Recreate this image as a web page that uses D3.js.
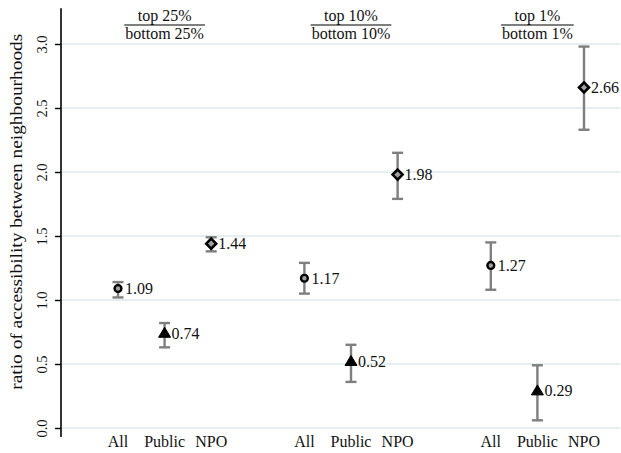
<!DOCTYPE html>
<html>
<head>
<meta charset="utf-8">
<script src="https://cdn.jsdelivr.net/npm/d3@7"></script>
<style>
  html, body { margin: 0; padding: 0; background: #fff; }
  svg { display: block; }
  text { font-family: "Liberation Serif", "DejaVu Serif", serif; fill: #111; }
</style>
</head>
<body>
<svg id="chart" width="621" height="453"></svg>
<script>
// Group headings (numerator / denominator of the ratio)
const groupTop = ["top 25%", "top 10%", "top 1%"];
const groupBottom = ["bottom 25%", "bottom 10%", "bottom 1%"];
// Provider types within each group
const providers = ["All", "Public", "NPO"];
// Point estimates per group, in provider order
const estimates = [
  [1.09, 0.74, 1.44],
  [1.17, 0.52, 1.98],
  [1.27, 0.29, 2.66]
];
// Confidence interval bounds
const ciLow = [
  [1.02, 0.63, 1.38],
  [1.05, 0.36, 1.79],
  [1.08, 0.06, 2.33]
];
const ciHigh = [
  [1.14, 0.82, 1.49],
  [1.29, 0.65, 2.15],
  [1.45, 0.49, 2.98]
];
const yTicks = [0, 0.5, 1, 1.5, 2, 2.5, 3];

const svg = d3.select("#chart");
const W = 621, H = 453;
const axisX = 61;

const y = d3.scaleLinear().domain([0, 3]).range([428, 44]);
// slot positions: three providers per group, one empty slot between groups
const x = d3.scaleLinear().domain([1, 11]).range([118, 584]);
const slot = (g, p) => 1 + g * 4 + p;

// gridlines
svg.append("g").selectAll("line").data(yTicks).join("line")
  .attr("x1", axisX + 1).attr("x2", W - 1)
  .attr("y1", d => y(d)).attr("y2", d => y(d))
  .attr("stroke", "#e6eff0").attr("stroke-width", 2);

// y axis
const yAxis = d3.axisLeft(y).tickValues(yTicks).tickFormat(d3.format(".1f"))
  .tickSize(6).tickSizeOuter(0);
const ga = svg.append("g").attr("transform", `translate(${axisX},0)`).call(yAxis);
ga.select(".domain").remove();
ga.append("line").attr("x1", 0).attr("x2", 0)
  .attr("y1", y(3.28)).attr("y2", y(-0.07))
  .attr("stroke", "#000").attr("stroke-width", 1.6);
ga.selectAll(".tick line").attr("stroke", "#000").attr("stroke-width", 1.4);
ga.selectAll(".tick text")
  .attr("font-size", 14.5)
  .attr("x", 0).attr("dy", 0)
  .attr("text-anchor", "middle")
  .attr("transform", "translate(-14,0) rotate(-90)")
  .attr("fill", "#111")
  .style("font-family", '"Liberation Serif", "DejaVu Serif", serif');

// y axis title
svg.append("text")
  .attr("transform", `translate(22,${y(1.69)}) rotate(-90)`)
  .attr("text-anchor", "middle")
  .attr("font-size", 17)
  .attr("textLength", 356)
  .attr("lengthAdjust", "spacingAndGlyphs")
  .text("ratio of accessibility between neighbourhoods");

// flatten records
const recs = [];
estimates.forEach((row, g) => row.forEach((v, p) => {
  recs.push({ g, p, v, lo: ciLow[g][p], hi: ciHigh[g][p] });
}));

// x labels
svg.append("g").selectAll("text").data(recs).join("text")
  .attr("x", d => x(slot(d.g, d.p)))
  .attr("y", 447)
  .attr("text-anchor", "middle")
  .attr("font-size", 16)
  .text(d => providers[d.p]);

// group headings as fractions
const heads = svg.append("g").selectAll("g").data(groupTop).join("g")
  .attr("transform", (d, g) => `translate(${x(slot(g, 1))},0)`);
heads.append("text").attr("y", 20.5).attr("text-anchor", "middle")
  .attr("font-size", 16).text(d => d);
heads.append("text").attr("y", 38.5).attr("text-anchor", "middle")
  .attr("font-size", 16).text((d, g) => groupBottom[g]);
heads.each(function(d, g) {
  const w = d3.select(this).selectAll("text").nodes()
    .reduce((m, n) => Math.max(m, n.getComputedTextLength()), 0);
  d3.select(this).append("line")
    .attr("x1", -w / 2 - 1).attr("x2", w / 2 + 1)
    .attr("y1", 25).attr("y2", 25)
    .attr("stroke", "#000").attr("stroke-width", 1.2);
});

// error bars
const eb = svg.append("g").attr("stroke", "#7f7f7f").attr("stroke-width", 2.4);
recs.forEach(d => {
  const cx = x(slot(d.g, d.p));
  eb.append("line").attr("x1", cx).attr("x2", cx).attr("y1", y(d.lo)).attr("y2", y(d.hi));
  eb.append("line").attr("x1", cx - 5.5).attr("x2", cx + 5.5).attr("y1", y(d.lo)).attr("y2", y(d.lo));
  eb.append("line").attr("x1", cx - 5.5).attr("x2", cx + 5.5).attr("y1", y(d.hi)).attr("y2", y(d.hi));
});

// markers: circle (All), filled triangle (Public), diamond (NPO)
const mk = svg.append("g");
recs.forEach(d => {
  const cx = x(slot(d.g, d.p)), cy = y(d.v);
  if (d.p === 0) {
    mk.append("circle").attr("cx", cx).attr("cy", cy).attr("r", 3.4)
      .attr("fill", "#a0a0a0").attr("stroke", "#000").attr("stroke-width", 2.4);
  } else if (d.p === 1) {
    mk.append("path")
      .attr("d", `M${cx},${cy - 6}L${cx + 6},${cy + 4}L${cx - 6},${cy + 4}Z`)
      .attr("fill", "#000").attr("stroke", "#000").attr("stroke-width", 1);
  } else {
    mk.append("path")
      .attr("d", `M${cx},${cy - 5}L${cx + 5},${cy}L${cx},${cy + 5}L${cx - 5},${cy}Z`)
      .attr("fill", "#a0a0a0").attr("stroke", "#000").attr("stroke-width", 2.6);
  }
});

// value labels
svg.append("g").selectAll("text").data(recs).join("text")
  .attr("x", d => x(slot(d.g, d.p)) + 7)
  .attr("y", d => y(d.v) + 5.5)
  .attr("font-size", 16)
  .text(d => d3.format(".2f")(d.v));
</script>
</body>
</html>
